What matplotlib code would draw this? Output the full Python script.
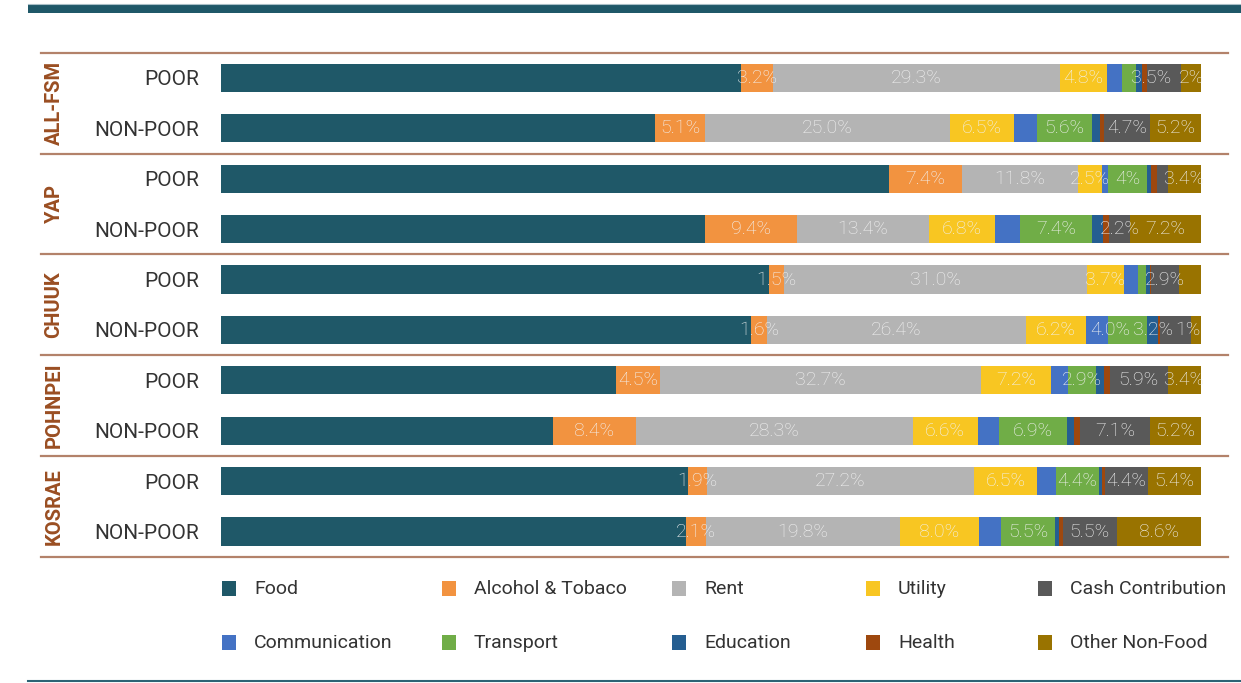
import matplotlib
matplotlib.use('Agg')
import matplotlib.pyplot as plt
from matplotlib.patches import Rectangle
from matplotlib.lines import Line2D
from matplotlib.transforms import blended_transform_factory

plt.rcParams['font.family'] = ['Roboto', 'DejaVu Sans']

# Expenditure shares (%) by row, top to bottom:
# ALL-FSM poor/non-poor, YAP, CHUUK, POHNPEI, KOSRAE
regions = ['ALL-FSM', 'YAP', 'CHUUK', 'POHNPEI', 'KOSRAE']
groups = ['POOR', 'NON-POOR']

food = [53.1, 44.3, 68.2, 49.4, 55.9, 54.1, 40.3, 33.9, 47.7, 47.4]
alcohol = [3.2, 5.1, 7.4, 9.4, 1.5, 1.6, 4.5, 8.4, 1.9, 2.1]
rent = [29.3, 25.0, 11.8, 13.4, 31.0, 26.4, 32.7, 28.3, 27.2, 19.8]
utility = [4.8, 6.5, 2.5, 6.8, 3.7, 6.2, 7.2, 6.6, 6.5, 8.0]
communication = [1.5, 2.4, 0.6, 2.5, 1.5, 2.2, 1.7, 2.2, 1.9, 2.3]
transport = [1.5, 5.6, 4.0, 7.4, 0.8, 4.0, 2.9, 6.9, 4.4, 5.5]
education = [0.6, 0.8, 0.4, 1.1, 0.4, 1.1, 0.8, 0.7, 0.3, 0.4]
health = [0.5, 0.4, 0.6, 0.6, 0.1, 0.2, 0.6, 0.7, 0.3, 0.4]
cash = [3.5, 4.7, 1.1, 2.2, 2.9, 3.2, 5.9, 7.1, 4.4, 5.5]
other = [2.0, 5.2, 3.4, 7.2, 2.2, 1.0, 3.4, 5.2, 5.4, 8.6]

categories = ['Food', 'Alcohol & Tobaco', 'Rent', 'Utility', 'Communication',
              'Transport', 'Education', 'Health', 'Cash Contribution', 'Other Non-Food']
series = [food, alcohol, rent, utility, communication,
          transport, education, health, cash, other]
colors = ['#1f5868', '#f29340', '#b4b4b4', '#f8c622', '#4472c4',
          '#70ad47', '#255e91', '#9e480e', '#595959', '#997300']

# rows that carry a data label, per category
labelled_rows = {
    'Alcohol & Tobaco': range(10),
    'Rent': range(10),
    'Utility': range(10),
    'Transport': [1, 2, 3, 5, 6, 7, 8, 9],
    'Cash Contribution': [0, 1, 3, 4, 5, 6, 7, 8, 9],
    'Other Non-Food': [0, 1, 2, 3, 5, 6, 7, 8, 9],
}
# labels printed without a decimal place
whole_pct = {(0, 'Other Non-Food'), (2, 'Transport'), (5, 'Other Non-Food')}
# sideways nudge (in % units) for labels that would collide near the bar end
label_shift = {(0, 'Cash Contribution'): -1.3,
               (5, 'Transport'): -1.8,
               (5, 'Cash Contribution'): -2.3,
               (5, 'Other Non-Food'): -0.8}

# legend is laid out in two rows of five
legend_rows = [
    ['Food', 'Alcohol & Tobaco', 'Rent', 'Utility', 'Cash Contribution'],
    ['Communication', 'Transport', 'Education', 'Health', 'Other Non-Food'],
]

W, H = 1241, 683
fig = plt.figure(figsize=(W / 100, H / 100), dpi=100)
ax = fig.add_axes([221 / W, 1 - 556.7 / H, 980 / W, 504 / H])

rows = list(range(len(food)))
left = [0.0] * len(rows)
for name, vals, col in zip(categories, series, colors):
    ax.barh(rows, vals, left=left, height=0.56, color=col, linewidth=0)
    for r in labelled_rows.get(name, []):
        fmt = '{:.0f}%' if (r, name) in whole_pct else '{:.1f}%'
        x = left[r] + vals[r] / 2 + label_shift.get((r, name), 0)
        ax.text(x, r, fmt.format(vals[r]), ha='center', va='center',
                color='#f2f2f2', fontsize=14, fontweight='light')
    left = [a + b for a, b in zip(left, vals)]

ax.set_xlim(0, 100)
ax.set_ylim(len(rows) - 0.5, -0.5)
ax.set_yticks(rows)
ax.set_yticklabels([g for _ in regions for g in groups])
ax.tick_params(axis='y', length=0, pad=16, labelsize=15, labelcolor='#333333')
ax.set_xticks([])
for sp in ax.spines.values():
    sp.set_visible(False)

# region names and brown separators spanning the label column
tr = blended_transform_factory(fig.transFigure, ax.transData)
for i, reg in enumerate(regions):
    ax.text(54 / W, 2 * i + 0.5, reg, transform=tr, rotation=90,
            ha='center', va='center', color='#9a4e22',
            fontsize=14.5, fontweight='bold')
for k in range(len(regions) + 1):
    fig.add_artist(Line2D([41 / W, 1228 / W], [2 * k - 0.5] * 2, transform=tr,
                          color='#b3826a', lw=1.6))

# header band and footer rule
fig.add_artist(Rectangle((28 / W, 1 - 12.7 / H), 1 - 28 / W, 8.5 / H,
                         transform=fig.transFigure, color='#1f5868', lw=0))
fig.add_artist(Line2D([28 / W, 1], [1 - 4 / H] * 2, transform=fig.transFigure,
                      color='#a9bfc7', lw=0.8))
fig.add_artist(Line2D([28 / W, 1], [1 - 681 / H] * 2, transform=fig.transFigure,
                      color='#2c6475', lw=1.5))

# hand-placed legend
col_x = [222, 442, 672, 866, 1038]
row_y = [588.5, 642.5]
color_of = dict(zip(categories, colors))
for ry, names in zip(row_y, legend_rows):
    for cx, name in zip(col_x, names):
        fig.add_artist(Rectangle((cx / W, 1 - (ry + 7.5) / H), 14 / W, 15 / H,
                                 transform=fig.transFigure,
                                 color=color_of[name], lw=0))
        fig.text((cx + 32) / W, 1 - (ry + 1) / H, name, ha='left', va='center',
                 color='#333333', fontsize=14)

fig.savefig('out.png', dpi=100)
